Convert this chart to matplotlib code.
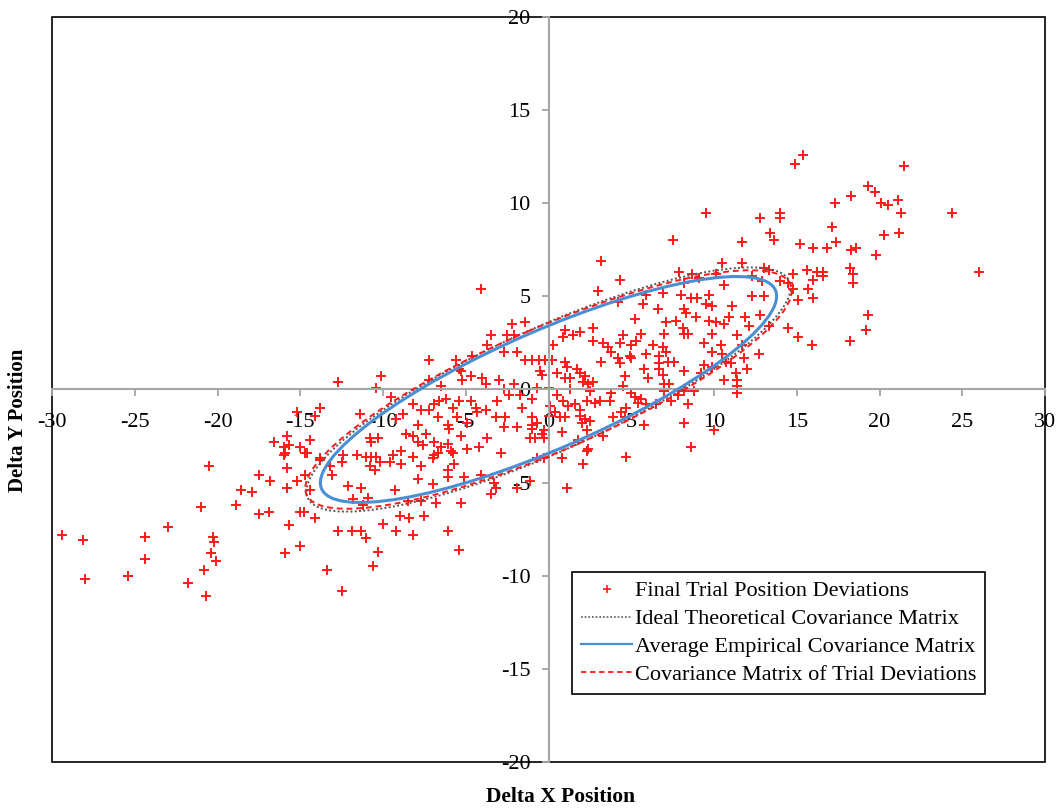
import numpy as np
import matplotlib
matplotlib.use("Agg")
import matplotlib.pyplot as plt
from matplotlib.patches import Ellipse, Rectangle
from matplotlib.lines import Line2D

plt.rcParams["font.family"] = ["Liberation Serif", "DejaVu Serif"]
plt.rcParams["axes.unicode_minus"] = False

# final trial position deviations
dx = [
    -29.4, -28.1, -28.0, -24.4, -24.4, -25.4, -23.0, -21.8, -20.7, -20.8, -20.4, -20.1, -20.3, -20.2,
    -21.0, -20.5, -18.9, -18.6, -17.9, -17.5, -16.9, -17.5, -16.8, -15.8, -15.9, -15.8, -15.2, -15.7,
    -15.9, -15.0, -15.0,
    -12.7, -10.4, -10.1, -13.8, -14.1, -15.2, -11.4, -14.4, -15.8, -16.6, -16.0, -15.7, -16.0, -15.0,
    -14.6, -10.8, -10.3, -10.7, -12.4, -11.6, -11.0, -10.7, -10.4, -13.8,
    -14.7, -13.8, -13.2, -13.1, -14.7, -14.4, -14.8, -14.1, -13.4, -12.5, -12.7, -11.9, -11.3, -11.0,
    -10.3, -10.6, -10.0, -9.2, -8.2, -9.0, -8.4, -7.5, -6.1, -5.4, -5.3, -6.8, -7.7, -8.5, -11.8,
    -10.9, -11.2, -12.1, -11.3, -9.3, -7.9, -7.0, -6.1, -6.1, -5.1, -4.1, -3.3, -3.5, -3.2, -1.9,
    -1.1, -2.9, -5.7, -7.0, -7.7, -8.2, -8.9, -9.6, -10.5, -10.8, -10.2, -12.5, -6.7, -5.8,
    0.8, 2.1, 4.7, 1.1, 2.3, -0.3, -0.7,
    9.5, 7.5, 3.2, 4.3, 3.0, 11.7, 12.8, 13.4, 13.6, 14.0, 14.0, 10.5, 11.7, 7.9, 8.7, 9.1, 10.1,
    10.6, 12.3, 13.0, 13.3, 12.9, 12.3, 13.0, 9.7, 8.0, 8.6, 9.0, 6.9, 5.9, 8.2,
    15.4, 14.9, 21.5, 19.3, 19.7, 18.3, 17.3, 20.1, 20.5, 21.1, 21.3, 24.4, 17.1, 20.3, 21.2, 15.2,
    16.0, 16.8, 17.4, 18.3, 18.6, 19.8, 26.0, 18.2, 18.4, 18.4, 14.8, 15.6, 16.2, 16.6, 16.6, 16.0,
    14.0, 14.5, 14.8, 15.7, 16.0, 15.1,
    19.3, 19.2, 18.2,
    14.5, 15.1, 15.9, 12.8, 11.9, 11.1, 10.9, 12.1, 13.3, 11.4, 12.7, 11.7, 11.8, 12.0, 11.3, 11.4,
    11.4, 11.4, 10.6, 11.0, 10.5, 10.4, 9.9, 9.9, 10.1, 10.6, 9.7, 9.9, 9.4, 9.4, 9.9, 9.2, 10.7,
    8.2, 8.8, 8.4, 8.2, 10.0, 8.6, 9.5, 8.9, 8.3, 8.2, 8.4,
    4.2, 5.7, 6.6, 8.2, 8.1, 7.7, 7.1, 7.0, 5.2, 2.7, 1.9, 1.0, 1.5, 0.9, 2.7, 3.3, 0.3, 4.5, 4.3,
    5.6, 5.3, 5.0, 3.6, 3.8, 5.9, 4.9, 5.0, 4.2, 3.2, 4.3, 5.8, 6.3, 6.9, 7.1, 6.7, 6.7, 7.2, 7.6,
    6.7, 6.9, 7.0, 7.3, 6.0, 4.6, 4.5, 5.0, 5.2, 5.6, 5.4, 5.9, 3.8, 3.7, 3.1, 2.8, 2.4, 2.5, 2.1,
    2.7, 2.2, 1.9, 1.3, 1.0, 0.5, 1.7, 1.1, -0.5, -0.4, -1.4, -1.0, -0.6, -0.2, 0.2, 1.0, -0.7, 0.0,
    0.5, 1.3, 0.9, 1.2, 1.6, 1.9, 2.3, 0.1, 0.4, 0.7, 1.0, 0.0, 1.9, 2.2, 2.0, 2.5, 3.9, 4.4, 4.7,
    4.6, 5.8, -0.7, -1.0, -0.3, -0.4, -0.3, -0.8, 0.8, 2.3, 3.3, 1.8, 2.4, 7.4, 7.8, 8.2, 6.5, 7.0,
    -2.2, -1.4, -3.5, -2.5, -2.1, -3.7, -2.7, -1.9, -7.2, -5.6, -4.6, -5.3, -5.4, -4.7, -5.2, -4.0,
    -3.8, -3.0, -7.2, -6.5, -2.7, -2.1, -2.4, -1.7, -1.0, -9.5, -6.6, -6.2, -5.4, -4.7, -3.1, -8.2,
    -6.9, -5.8, -4.4, -4.3, -3.8, -3.2, -2.6, -1.6, -1.0, -7.7, -7.2, -8.8, -9.2, -7.9, -6.7, -6.1,
    -6.0, -5.5, -4.9, -2.7, -1.9, -1.0, -8.6, -8.2, -7.4, -5.3, -3.7, -7.9, -7.6, -6.9, -6.5, -6.1,
    -4.9, -4.2, -1.1, -8.9, -8.2, -5.9, -6.9, -9.4, -4.1,
]
dy = [
    -7.8, -8.1, -10.2, -7.9, -9.1, -10.0, -7.4, -10.4, -11.1, -9.7, -8.8, -9.2, -7.9, -8.2,
    -6.3, -4.1, -6.2, -5.4, -5.5, -6.7, -6.6, -4.6, -4.9, -4.2, -3.4, -5.3, -4.9, -7.3,
    -8.8, -8.4, -6.6,
    0.4, 0.1, 0.7, -1.0, -1.4, -1.2, -1.3, -2.7, -2.5, -2.8, -3.1, -3.0, -3.5, -3.1,
    -3.4, -2.6, -2.6, -2.8, -3.5, -3.5, -3.6, -3.6, -3.6, -3.7,
    -3.4, -3.8, -4.1, -4.6, -4.6, -5.4, -6.6, -6.9, -9.7, -10.8, -7.6, -7.6, -7.6, -8.0,
    -8.7, -9.5, -7.2, -7.6, -7.8, -6.8, -6.9, -6.8, -7.6, -8.6, -6.1, -6.1, -6.0, -6.0, -5.9,
    -5.8, -6.2, -5.2, -5.3, -5.4, -4.8, -5.1, -4.3, -4.7, -4.7, -4.6, -5.0, -5.6, -5.3, -5.3,
    -4.9, -3.4, -4.0, -3.7, -4.1, -3.6, -4.0, -3.9, -4.3, -4.1, -3.9, -3.9, -3.4, -3.4,
    -3.7, -4.0, -3.6, -5.3, -3.3, -3.7, -3.7,
    9.5, 8.0, 6.9, 5.9, 5.3, 7.9, 9.2, 8.4, 8.0, 9.5, 9.2, 6.8, 6.8, 6.3, 6.2, 6.0, 6.2,
    5.6, 6.1, 6.5, 6.4, 5.8, 5.0, 5.0, 5.1, 5.1, 4.9, 4.9, 5.2, 5.1, 5.7,
    12.6, 12.1, 12.0, 10.9, 10.6, 10.4, 10.0, 10.0, 9.9, 10.2, 9.5, 9.5, 8.7, 8.3, 8.4, 7.8,
    7.6, 7.6, 7.9, 7.5, 7.6, 7.2, 6.3, 6.5, 6.2, 5.7, 6.2, 6.4, 6.3, 6.3, 6.1, 5.9,
    5.8, 5.7, 5.4, 5.4, 4.9, 4.8,
    4.0, 3.2, 2.6,
    3.3, 2.8, 2.4, 4.0, 3.9, 4.5, 3.9, 3.4, 3.4, 2.9, 1.9, 2.4, 1.7, 1.1, 0.9, 0.5,
    0.2, -0.2, 0.5, 1.4, 1.9, 2.4, 2.0, 4.5, 3.6, 3.5, 3.7, 3.0, 2.5, 1.3, 1.2, 0.9, 1.5,
    1.0, -0.1, -0.8, -1.8, -2.2, -3.1, 4.6, 3.9, 4.1, 3.0, 3.0,
    4.7, 4.6, 4.3, 4.3, 3.3, 3.7, 3.6, 3.0, 3.8, 3.3, 3.1, 3.2, 2.9, 2.8, 2.6, 2.5, 2.4, 2.9, 2.5,
    3.0, 2.6, 2.4, 2.3, 2.0, 1.9, 1.8, 1.7, 1.7, 1.5, 1.4, 1.1, 2.4, 2.3, 2.0, 1.8, 1.4, 1.5, 1.5,
    1.1, 0.8, 0.3, 0.3, 0.6, 0.7, 0.2, -0.2, -0.4, -0.5, -0.7, -0.8, -0.2, -0.6, -0.6, -0.7, 0.3, -0.1, 0.4,
    0.4, 0.7, 0.9, 0.6, 0.6, 0.9, 1.1, 1.2, 1.0, 0.8, 1.6, 1.6, 1.6, 1.6, 1.6, 1.5, 0.1, 0.1,
    -0.3, 0.0, -0.6, -0.9, -0.8, -1.1, -0.6, -0.9, -1.2, -1.5, -1.5, -1.4, -1.4, -1.6, -1.8, -1.7, -1.5, -1.2, -1.0,
    -1.5, -1.9, -1.8, -2.1, -2.2, -2.4, -2.6, -2.6, -2.3, -2.2, -2.5, -2.7, -3.2, -0.6, -0.3, -0.1, -0.8, -0.1,
    3.5, 3.6, 2.9, 2.9, 2.9, 2.4, 2.0, 2.0, 1.6, 1.6, 1.8, 1.0, 1.1, 0.7, 0.5, 0.6,
    0.3, 0.5, 0.5, 0.2, 0.0, 0.3, -0.3, -0.3, -0.5, -0.4, -0.6, -0.5, -0.6, -0.6, -0.6, -0.8,
    -0.8, -1.0, -1.0, -1.2, -1.1, -1.5, -1.5, -1.0, -1.5, -1.1, -1.1, -1.3, -1.6, -1.9, -1.5, -1.9,
    -2.1, -1.5, -1.8, -2.0, -2.0, -1.9, -2.4, -2.5, -2.4, -2.5, -2.6, -2.8, -3.0, -2.8, -3.1, -2.9,
    -3.2, -3.1, -2.6, -3.3, -3.6, -3.3, -3.5, -3.5, 5.4,
]

# covariance contours as [sxx, sxy, syy]
COV_IDEAL = [214, 80, 43]
COV_AVG = [190, 69, 36.8]
COV_TRIAL = [216, 78, 41]

RED = "#ff1a1a"
BLUE = "#4a8fd4"
DOT = "#555555"
GRID = "#a6a6a6"


def cov_ellipse(cov, **kw):
    m = np.array([[cov[0], cov[1]], [cov[1], cov[2]]])
    vals, vecs = np.linalg.eigh(m)
    ang = np.degrees(np.arctan2(vecs[1, 1], vecs[0, 1]))
    return Ellipse((0, 0), 2 * np.sqrt(vals[1]), 2 * np.sqrt(vals[0]), angle=ang,
                   fill=False, **kw)


fig = plt.figure(figsize=(10.59, 8.09), dpi=100)
ax = fig.add_axes([52 / 1059, 1 - 762 / 809, 993 / 1059, 745 / 809])
ax.set_xlim(-30, 30)
ax.set_ylim(-20, 20)

ax.plot(dx, dy, ls="none", marker="+", color=RED, ms=6.5, mew=1.4, zorder=2)
ax.add_patch(cov_ellipse(COV_IDEAL, ec=DOT, lw=1.4, ls=(0, (1, 1.2)), zorder=3))
ax.add_patch(cov_ellipse(COV_TRIAL, ec=RED, lw=1.4, ls=(0, (3, 2)), zorder=3))
ax.add_patch(cov_ellipse(COV_AVG, ec=BLUE, lw=2.2, zorder=4))

for side in ("top", "right"):
    ax.spines[side].set_visible(False)
for side in ("left", "bottom"):
    ax.spines[side].set_position(("data", 0))
    ax.spines[side].set_color(GRID)
    ax.spines[side].set_linewidth(1.5)

ax.set_xticks(range(-30, 31, 5))
ax.set_yticks(range(-20, 21, 5))
ax.tick_params(direction="out", length=5, width=1.3, color=GRID, labelsize=16)
ax.tick_params(axis="x", pad=12)
ax.tick_params(axis="y", pad=8)

# plot-area frame
ax.add_patch(Rectangle((0, 0), 1, 1, transform=ax.transAxes, fill=False, ec="black",
                       lw=1.2, clip_on=False, zorder=1))

fig.text(0.529, 0.015, "Delta X Position", ha="center", va="center",
         fontsize=15.5, fontweight="bold")
fig.text(0.017, 0.481, "Delta Y Position", ha="center", va="center", rotation=90,
         fontsize=15, fontweight="bold")

handles = [
    Line2D([], [], ls="none", marker="+", color=RED, ms=6, mew=1.2),
    Line2D([], [], color=DOT, lw=1.2, ls=(0, (1, 1.2))),
    Line2D([], [], color=BLUE, lw=1.6),
    Line2D([], [], color=RED, lw=1.3, ls=(0, (3, 2))),
]
labels = ["Final Trial Position Deviations", "Ideal Theoretical Covariance Matrix",
          "Average Empirical Covariance Matrix", "Covariance Matrix of Trial Deviations"]
leg = ax.legend(handles, labels, loc="upper left", bbox_to_anchor=(0.524, 0.255),
                borderaxespad=0, fontsize=16, handlelength=2.3, handletextpad=0.1,
                labelspacing=0.33, borderpad=0.4, fancybox=False, framealpha=1)
leg.get_frame().set_edgecolor("black")
leg.get_frame().set_linewidth(1.2)

fig.savefig("out.png", dpi=100)
